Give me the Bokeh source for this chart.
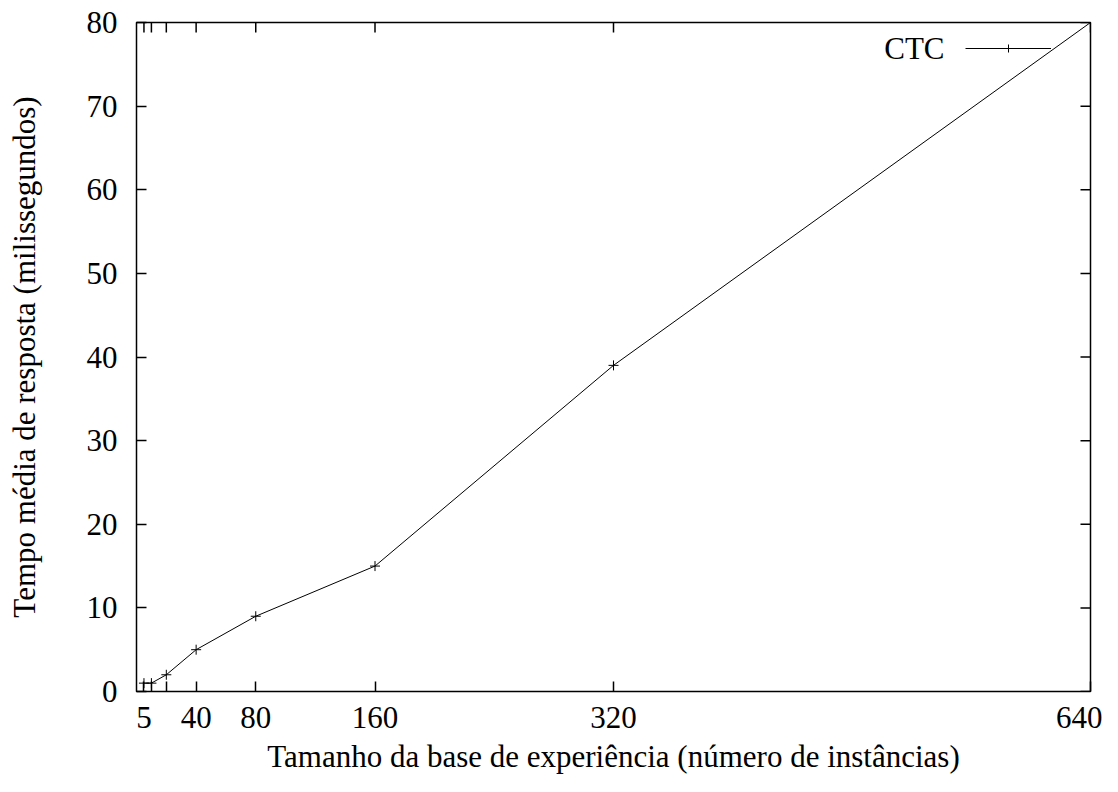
from bokeh.plotting import figure
from bokeh.models import FixedTicker, Range1d, Legend, LegendItem, Label
from bokeh.embed import file_html
from bokeh.resources import INLINE

# Data
tamanho = [5, 10, 20, 40, 80, 160, 320, 640]
tempo = [1, 1, 2, 5, 9, 15, 39, 80]
x_ticks = [5, 10, 20, 40, 80, 160, 320, 640]
x_hidden_labels = [10, 20]
y_ticks = [0, 10, 20, 30, 40, 50, 60, 70, 80]
series_name = "CTC"
x_label = "Tamanho da base de experiência (número de instâncias)"
y_label = "Tempo média de resposta (milissegundos)"

FONT = "Liberation Serif"
FS = "31px"
X0, X1, Y0, Y1 = 0, 640, 0, 80
LEFT, RIGHT, TOP, BOTTOM = 136, 12, 22, 84
W, H = 1102, 776
FRAME_W, FRAME_H = W - LEFT - RIGHT, H - TOP - BOTTOM
TICK = 10  # px

p = figure(width=W, height=H, output_backend="svg", toolbar_location=None,
           x_range=Range1d(X0, X1), y_range=Range1d(Y0, Y1),
           min_border_left=LEFT, min_border_right=RIGHT, min_border_top=TOP,
           min_border_bottom=BOTTOM)
p.background_fill_color = "white"
p.border_fill_color = "white"
p.outline_line_color = "black"
p.outline_line_width = 1.5
p.xgrid.visible = False
p.ygrid.visible = False

for ax, tk in ((p.xaxis[0], x_ticks), (p.yaxis[0], y_ticks)):
    ax.ticker = FixedTicker(ticks=tk)
    ax.axis_line_color = None
    ax.major_tick_in = TICK
    ax.major_tick_out = 0
    ax.major_tick_line_color = "black"
    ax.major_tick_line_width = 1.5
    ax.minor_tick_line_color = None
    ax.major_label_text_font = FONT
    ax.major_label_text_font_size = FS
    ax.major_label_text_color = "black"
    ax.axis_label_text_font = FONT
    ax.axis_label_text_font_size = FS
    ax.axis_label_text_font_style = "normal"
    ax.axis_label_text_color = "black"

p.xaxis.major_label_overrides = {v: "" for v in x_hidden_labels}
p.xaxis.major_label_standoff = 15
p.yaxis.major_label_standoff = 19
p.xaxis.axis_label = x_label
p.yaxis.axis_label = y_label
p.xaxis.axis_label_standoff = 8
p.yaxis.axis_label_standoff = 42

# mirrored ticks on top and right borders (gnuplot style)
dy = TICK * (Y1 - Y0) / FRAME_H
dx = TICK * (X1 - X0) / FRAME_W
p.segment(x0=x_ticks, y0=[Y1] * len(x_ticks), x1=x_ticks, y1=[Y1 - dy] * len(x_ticks),
          line_color="black", line_width=1.5)
p.segment(x0=[X1] * len(y_ticks), y0=y_ticks, x1=[X1 - dx] * len(y_ticks), y1=y_ticks,
          line_color="black", line_width=1.5)

line = p.line(tamanho, tempo, line_color="black", line_width=1)
pts = p.scatter(tamanho, tempo, marker="cross", size=10, line_color="black", line_width=1)

# gnuplot-style key: title on the left, sample on the right
legend = Legend(items=[LegendItem(label=" ", renderers=[line, pts])],
                location=(829, FRAME_H - 49 + TOP - 10), orientation="vertical",
                padding=0, margin=0, spacing=0, glyph_width=86, glyph_height=20,
                label_standoff=0, label_text_font=FONT, label_text_font_size=FS,
                border_line_color=None, background_fill_alpha=0)
p.add_layout(legend)
p.add_layout(Label(x=808, y=FRAME_H - 49 + TOP, x_units="screen", y_units="screen",
                   text=series_name, text_font=FONT, text_font_size=FS,
                   text_align="right", text_baseline="middle", text_color="black"))

open("out.html", "w").write(file_html(p, INLINE))
